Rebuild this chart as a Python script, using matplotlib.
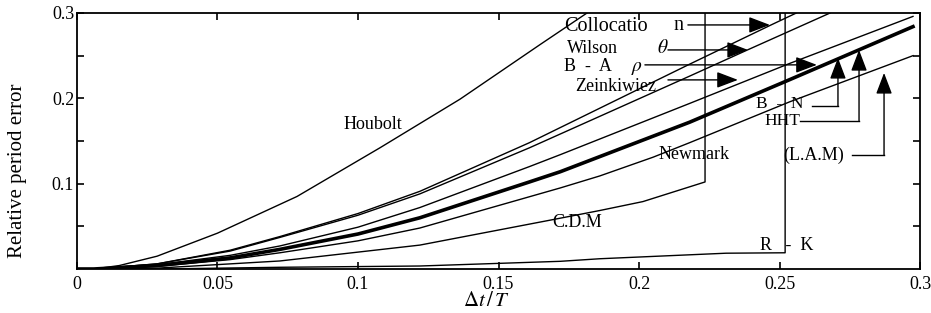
import matplotlib.pyplot as plt
import numpy as np

plt.rcParams['font.family'] = ['Liberation Serif', 'DejaVu Serif']
plt.rcParams['mathtext.fontset'] = 'stix'

# ---- curves (dt/T, relative period error) ----
x_houbolt = [0, 0.006, 0.015, 0.0285, 0.05, 0.0783, 0.1078, 0.1363, 0.1648, 0.1815]
y_houbolt = [0, 0.0, 0.004, 0.015, 0.042, 0.085, 0.142, 0.199, 0.263, 0.30]

x_colloc = [0, 0.006, 0.0285, 0.0545, 0.0722, 0.1, 0.122, 0.161, 0.218, 0.247, 0.256]
y_colloc = [0, 0.0, 0.006, 0.022, 0.038, 0.065, 0.091, 0.148, 0.240, 0.286, 0.30]

x_wilson = [0, 0.006, 0.0285, 0.0545, 0.0722, 0.1, 0.122, 0.161, 0.218, 0.2388, 0.268]
y_wilson = [0, 0.0, 0.006, 0.021, 0.037, 0.063, 0.088, 0.142, 0.226, 0.257, 0.30]

x_zeink = [0, 0.006, 0.0285, 0.0545, 0.0722, 0.1, 0.122, 0.161, 0.172, 0.218, 0.2537, 0.2975]
y_zeink = [0, 0.0, 0.005, 0.016, 0.027, 0.049, 0.072, 0.120, 0.134, 0.194, 0.241, 0.296]

x_bn = [0, 0.006, 0.0285, 0.0545, 0.0722, 0.1, 0.122, 0.161, 0.172, 0.218, 0.2537, 0.2975]
y_bn = [0, 0.0, 0.004, 0.013, 0.023, 0.041, 0.060, 0.102, 0.114, 0.172, 0.222, 0.284]

x_lam = [0, 0.006, 0.0285, 0.0545, 0.0722, 0.1, 0.122, 0.172, 0.186, 0.205, 0.218, 0.2537, 0.2975]
y_lam = [0, 0.0, 0.003, 0.011, 0.019, 0.033, 0.048, 0.095, 0.109, 0.131, 0.148, 0.196, 0.250]

x_cdm = [0, 0.01, 0.0285, 0.0545, 0.0722, 0.122, 0.168, 0.186, 0.2014, 0.2235, 0.2235]
y_cdm = [0, 0.0, 0.001, 0.006, 0.0094, 0.028, 0.057, 0.0685, 0.079, 0.102, 0.30]

x_rk = [0, 0.03, 0.0722, 0.122, 0.172, 0.186, 0.231, 0.252, 0.252]
y_rk = [0, 0.0, 0.002, 0.0035, 0.009, 0.012, 0.0185, 0.019, 0.30]

xticks = [0, 0.05, 0.1, 0.15, 0.2, 0.25, 0.3]
xticklabels = ['0', '0.05', '0.1', '0.15', '0.2', '0.25', '0.3']
yticks = [0.1, 0.2, 0.3]
yticklabels = ['0.1', '0.2', '0.3']

fig = plt.figure(figsize=(9.31, 3.13), dpi=100)
ax = fig.add_axes([0.0827, 0.1406, 0.9055, 0.8179])

for xs, ys in [(x_houbolt, y_houbolt), (x_colloc, y_colloc), (x_wilson, y_wilson),
               (x_zeink, y_zeink), (x_lam, y_lam), (x_cdm, y_cdm), (x_rk, y_rk)]:
    ax.plot(xs, ys, color='k', lw=1.0)
ax.plot(x_bn, y_bn, color='k', lw=2.6)

ax.set_xlim(0, 0.3)
ax.set_ylim(0, 0.3)
ax.set_xticks(xticks)
ax.set_xticklabels(xticklabels)
ax.set_yticks(yticks)
ax.set_yticklabels(yticklabels)
ax.set_yticks([0.05, 0.15, 0.25], minor=True)
ax.tick_params(which='both', direction='in', top=True, right=True,
               length=5, width=1.2, labelsize=13)
ax.tick_params(axis='y', pad=2)
ax.tick_params(axis='x', pad=5)
for s in ax.spines.values():
    s.set_linewidth(1.3)

ax.set_xlabel(r'$\Delta t\,/\,T$', fontsize=15)
ax.xaxis.set_label_coords(0.486, -0.088)
ax.set_ylabel('Relative period error', fontsize=15)
ax.yaxis.set_label_coords(-0.059, 0.383)

aprops = dict(arrowstyle='-|>,head_length=1.0,head_width=0.38', color='k',
              lw=1.0, shrinkA=0, shrinkB=0, mutation_scale=13)


def arrow(x0, y0, x1, y1):
    ax.annotate('', xy=(x1, y1), xytext=(x0, y0), arrowprops=aprops,
                annotation_clip=False)


fs = 13
ax.text(0.1883, 0.2837, 'Collocatio', fontsize=14.5, ha='center', va='center')
ax.text(0.2139, 0.2849, 'n', fontsize=14.5, ha='center', va='center')
arrow(0.2174, 0.2860, 0.2466, 0.2860)

ax.text(0.1836, 0.2579, 'Wilson', fontsize=fs, ha='center', va='center')
ax.text(0.2085, 0.2591, r'$\theta$', fontsize=fs + 1, ha='center', va='center')
arrow(0.2103, 0.2567, 0.2388, 0.2567)

ax.text(0.1819, 0.2368, 'B  -  A', fontsize=fs, ha='center', va='center')
ax.text(0.1993, 0.2345, r'$\rho$', fontsize=fs + 1, ha='center', va='center')
arrow(0.2021, 0.2392, 0.2633, 0.2392)

ax.text(0.1918, 0.2134, 'Zeinkiwiez', fontsize=fs, ha='center', va='center')
arrow(0.2103, 0.2216, 0.2352, 0.2216)

ax.text(0.2502, 0.1935, 'B  -  N', fontsize=12.5, ha='center', va='center')
ax.plot([0.2616, 0.2708], [0.1911, 0.1911], color='k', lw=1.0)
arrow(0.2708, 0.1911, 0.2708, 0.2474)

ax.text(0.2509, 0.1730, 'HHT', fontsize=12.5, ha='center', va='center')
ax.plot([0.2573, 0.2783], [0.1735, 0.1735], color='k', lw=1.0)
arrow(0.2783, 0.1735, 0.2783, 0.2567)

ax.text(0.2623, 0.1336, '(L.A.M)', fontsize=fs, ha='center', va='center')
ax.plot([0.2758, 0.2872], [0.1336, 0.1336], color='k', lw=1.0)
arrow(0.2872, 0.1336, 0.2872, 0.2298)

ax.text(0.2196, 0.1336, 'Newmark', fontsize=fs, ha='center', va='center')
ax.text(0.1779, 0.0539, 'C.D.M', fontsize=fs, ha='center', va='center')
ax.text(0.1053, 0.1688, 'Houbolt', fontsize=fs, ha='center', va='center')
ax.text(0.2527, 0.0270, 'R   -  K', fontsize=fs, ha='center', va='center')

fig.savefig('out.png', dpi=100)
